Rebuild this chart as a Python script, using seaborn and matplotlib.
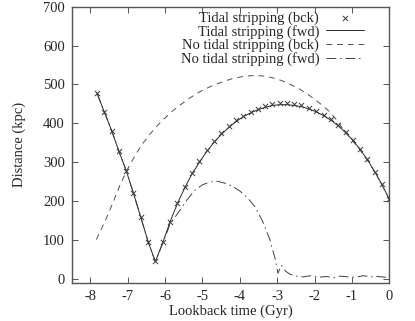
import numpy as np
import pandas as pd
import matplotlib
matplotlib.use('Agg')
import matplotlib.pyplot as plt
import seaborn as sns

# Tidal stripping, backward integration (markers)
t_bck = [-7.82, -7.63, -7.43, -7.24, -7.04, -6.85, -6.65, -6.45, -6.26, -6.06,
         -5.87, -5.67, -5.47, -5.28, -5.08, -4.89, -4.69, -4.50, -4.30, -4.11,
         -3.91, -3.71, -3.52, -3.32, -3.13, -2.93, -2.74, -2.54, -2.35, -2.15,
         -1.96, -1.76, -1.56, -1.37, -1.17, -0.98, -0.78, -0.59, -0.39, -0.20, 0.0]
d_bck = [477, 430, 381, 329, 278, 221, 158, 94, 46, 94,
         147, 196, 237, 273, 304, 331, 355, 376, 393, 409,
         420, 430, 438, 445, 450, 452, 452, 450, 446, 440,
         432, 422, 410, 395, 377, 357, 333, 307, 276, 243, 205]

# Tidal stripping, forward integration (solid)
t_fwd = t_bck
d_fwd = [477, 430, 381, 329, 278, 221, 158, 94, 44, 94,
         146, 194, 235, 270, 300, 327, 351, 371, 389, 404,
         417, 427, 435, 441, 446, 448, 448, 446, 443, 437,
         430, 420, 408, 394, 376, 357, 333, 307, 276, 243, 205]

# No tidal stripping, backward integration (dashed)
t_nt_bck = [-7.84, -7.6, -7.4, -7.2, -7.0, -6.8, -6.6, -6.4, -6.2, -6.0,
            -5.8, -5.6, -5.4, -5.2, -5.0, -4.8, -4.6, -4.4, -4.2, -4.0,
            -3.8, -3.6, -3.4, -3.2, -3.0, -2.8, -2.6, -2.4, -2.2, -2.0,
            -1.8, -1.6, -1.4, -1.2, -1.0, -0.8, -0.6, -0.4, -0.2, 0.0]
d_nt_bck = [101, 150, 195, 243, 283, 318, 348, 373, 395, 414,
            432, 447, 461, 474, 485, 494, 502, 509, 515, 519,
            522, 523, 522, 519, 514, 507, 498, 488, 476, 462,
            447, 430, 408, 380, 357, 334, 307, 277, 243, 205]

# No tidal stripping, forward integration (dash-dot)
t_nt_fwd = [-7.82, -7.63, -7.43, -7.24, -7.04, -6.85, -6.65, -6.45, -6.26, -6.06,
            -5.87, -5.6, -5.4, -5.2, -5.0, -4.8, -4.6, -4.4, -4.2, -4.0,
            -3.8, -3.6, -3.4, -3.2, -3.05, -2.98, -2.89, -2.78, -2.66, -2.5,
            -2.3, -2.1, -1.9, -1.7, -1.5, -1.3, -1.1, -0.9, -0.7, -0.5, -0.3, -0.1, 0.0]
d_nt_fwd = [477, 430, 381, 329, 278, 221, 158, 94, 44, 92,
            140, 177, 205, 228, 242, 249, 251, 246, 238, 226,
            209, 186, 150, 102, 50, 14, 35, 20, 12, 7,
            5, 8, 4, 6, 3, 7, 5, 4, 8, 5, 6, 4, 5]

df_bck = pd.DataFrame({'t': t_bck, 'd': d_bck})
df_fwd = pd.DataFrame({'t': t_fwd, 'd': d_fwd})
df_nt_bck = pd.DataFrame({'t': t_nt_bck, 'd': d_nt_bck})
df_nt_fwd = pd.DataFrame({'t': t_nt_fwd, 'd': d_nt_fwd})

sns.set_theme(style='ticks')
plt.rcParams['font.family'] = ['Liberation Serif', 'DejaVu Serif']
plt.rcParams['axes.unicode_minus'] = False

fig = plt.figure(figsize=(4.15, 3.21), dpi=100)
ax = fig.add_axes([0.1728, 0.1193, 0.938 - 0.1728, 0.979 - 0.1193])

sns.scatterplot(data=df_bck, x='t', y='d', marker='x', s=14, color='#3a3a3a',
                linewidth=0.7, ax=ax, label='Tidal stripping (bck)', zorder=3)
sns.lineplot(data=df_fwd, x='t', y='d', color='#2a2a2a', linewidth=0.7,
             ax=ax, label='Tidal stripping (fwd)', sort=False)
sns.lineplot(data=df_nt_bck, x='t', y='d', color='#505050', linewidth=0.7,
             ax=ax, label='No tidal stripping (bck)', sort=False)
ax.lines[-1].set_dashes((6, 5))
sns.lineplot(data=df_nt_fwd, x='t', y='d', color='#404040', linewidth=0.7,
             ax=ax, label='No tidal stripping (fwd)', sort=False)
ax.lines[-1].set_dashes((10, 4, 1.5, 4))

ax.set_xlim(-8.5, 0)
ax.set_ylim(-10, 700)
ax.set_xticks(range(-8, 1))
ax.set_yticks(range(0, 701, 100))
ax.set_xlabel('Lookback time (Gyr)', fontsize=10.5, labelpad=1)
ax.set_ylabel('Distance (kpc)', fontsize=10.5, labelpad=12)
ax.tick_params(direction='in', top=True, right=True, length=4, width=0.7,
               color='#555555', labelsize=10.5, pad=5)
for sp in ax.spines.values():
    sp.set_visible(True)
    sp.set_color('#555555')
    sp.set_linewidth(1.0)

leg = ax.legend(loc='upper right', frameon=False, markerfirst=False, fontsize=10.5,
                handlelength=2.6, handletextpad=0.5, labelspacing=0.0,
                borderaxespad=0.0, bbox_to_anchor=(0.94, 1.005))
for t in leg.get_texts():
    t.set_ha('right')

plt.savefig('out.png', dpi=100)
